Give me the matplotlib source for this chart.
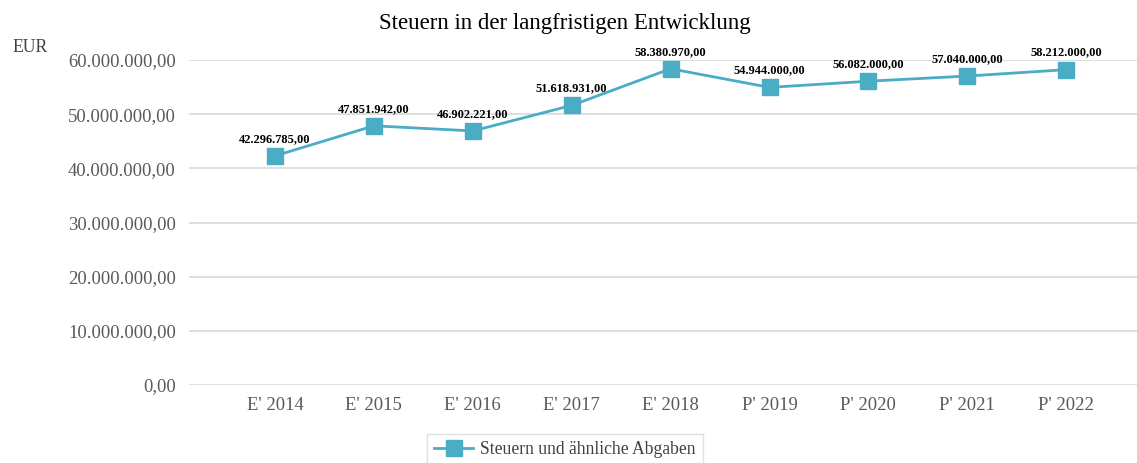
import matplotlib
matplotlib.use("Agg")
import matplotlib.pyplot as plt
from matplotlib.ticker import FuncFormatter

categories = ["E' 2014", "E' 2015", "E' 2016", "E' 2017", "E' 2018",
              "P' 2019", "P' 2020", "P' 2021", "P' 2022"]
values = [42296785.00, 47851942.00, 46902221.00, 51618931.00, 58380970.00,
          54944000.00, 56082000.00, 57040000.00, 58212000.00]
series_name = "Steuern und ähnliche Abgaben"
title = "Steuern in der langfristigen Entwicklung"
yticks = [0, 10000000, 20000000, 30000000, 40000000, 50000000, 60000000]

plt.rcParams['font.family'] = ['Liberation Serif', 'DejaVu Serif']

def de_fmt(v, pos=None):
    s = f"{v:,.2f}"
    return s.replace(",", "X").replace(".", ",").replace("X", ".")

W, H = 1137, 463
fig = plt.figure(figsize=(W/100, H/100), dpi=100)
left, right, top, bottom = 189, 1137, 60, 385
ax = fig.add_axes([left/W, 1-bottom/H, (right-left)/W, (bottom-top)/H])

color = "#4BACC6"
x = list(range(len(categories)))
ax.plot(x, values, color=color, lw=2, marker="s", markersize=11,
        markerfacecolor=color, markeredgecolor=color, label=series_name,
        clip_on=False, zorder=3)

first_px, step_px = 275, 98.9
ax.set_xlim((left-first_px)/step_px, (right-first_px)/step_px)
ax.set_ylim(0, 60000000)
ax.set_xticks(x)
ax.set_xticklabels(categories)
ax.set_yticks(yticks)
ax.yaxis.set_major_formatter(FuncFormatter(de_fmt))
ax.tick_params(axis='both', length=0, labelsize=13.4, labelcolor="#595959")
ax.tick_params(axis='x', pad=9)
ax.tick_params(axis='y', pad=9.5)
ax.grid(axis='y', color="#D9D9D9", lw=1.2)
ax.set_axisbelow(True)
for s in ax.spines.values():
    s.set_visible(False)

for xi, v in zip(x, values):
    ax.annotate(de_fmt(v), (xi, v), xytext=(0, 8), textcoords="offset points",
                ha="center", va="bottom", fontsize=9, fontweight="bold",
                color="#000000", annotation_clip=False)

fig.text(565/W, 1-23/H, title, ha="center", va="center", fontsize=16.5, color="#000000")
fig.text(12/W, 1-48/H, "EUR", ha="left", va="center", fontsize=12.7, color="#404040")

leg = ax.legend(loc="center", bbox_to_anchor=(565/W, 1-450/H),
                bbox_transform=fig.transFigure, frameon=True, fancybox=False,
                fontsize=12.7, handlelength=2.2, borderpad=0.4, handletextpad=0.4)
leg.get_frame().set_edgecolor("#D9D9D9")
leg.get_frame().set_linewidth(1)
for t in leg.get_texts():
    t.set_color("#404040")

fig.savefig("out.png", dpi=100)
